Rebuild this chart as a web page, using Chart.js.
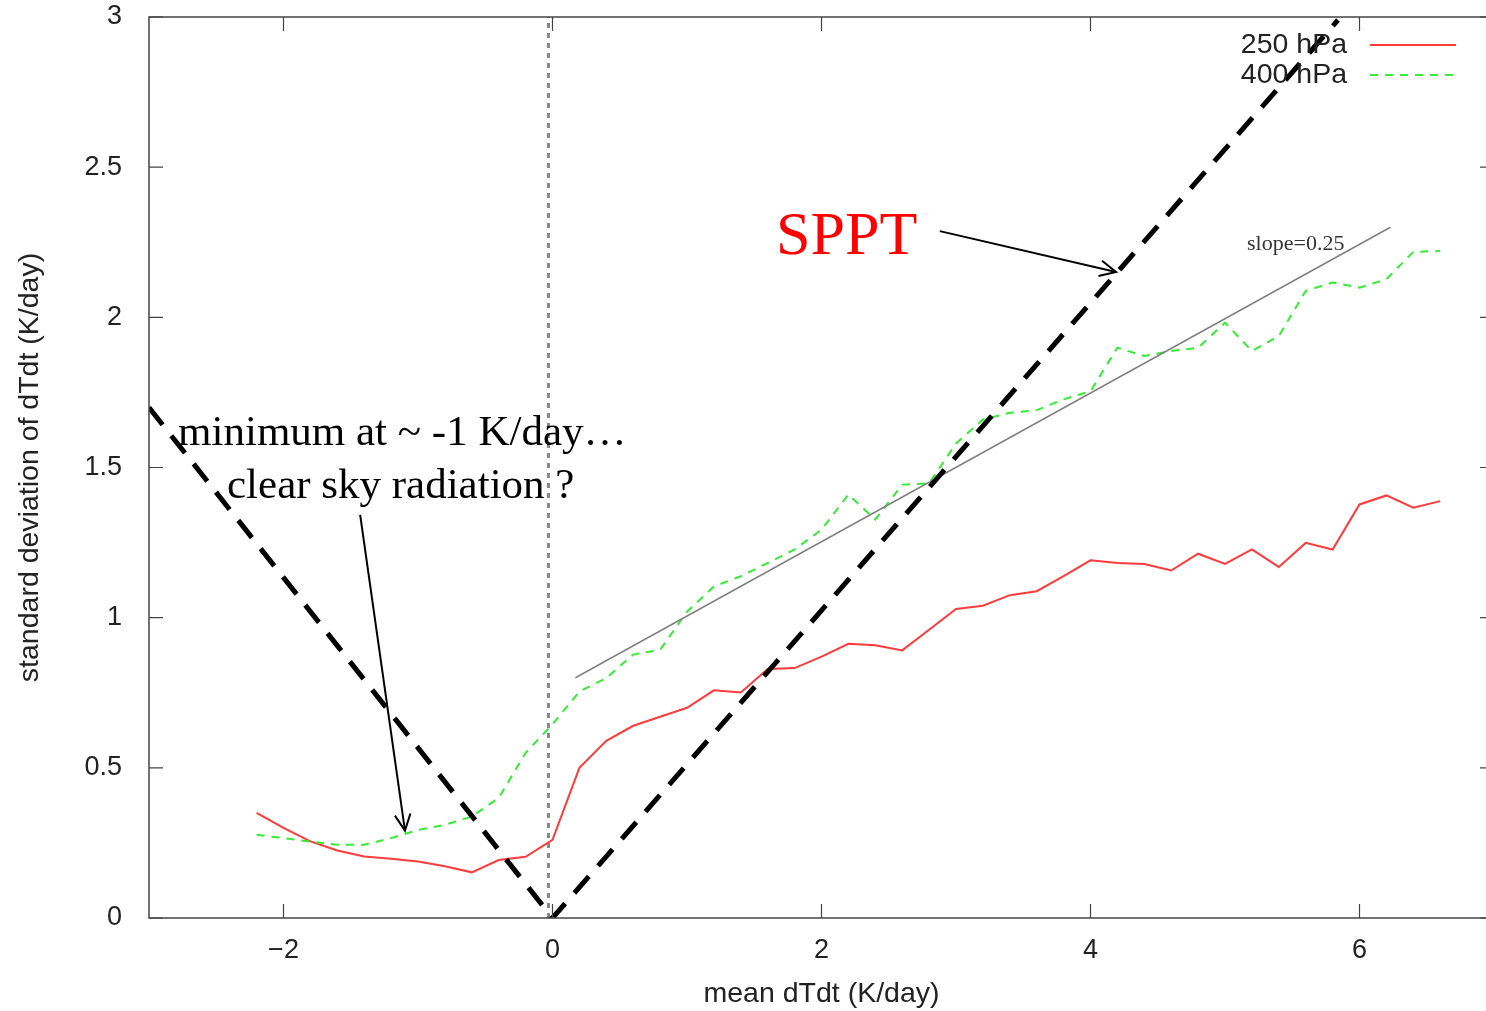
<!DOCTYPE html>
<html>
<head>
<meta charset="utf-8">
<script src="https://cdn.jsdelivr.net/npm/chart.js@4.4.1/dist/chart.umd.min.js"></script>
<style>
    body { margin: 0; background: #fff; overflow: hidden; }
    #wrap { width: 1500px; height: 1011px; position: relative; }
</style>
</head>
<body>
<div id="wrap"><canvas id="chart"></canvas></div>
<script>
// mean dTdt bins (K/day)
var meanDTdt = [-2.2, -2.0, -1.8, -1.6, -1.4, -1.2, -1.0, -0.8, -0.6, -0.4, -0.2, 0.0,
    0.2, 0.4, 0.6, 0.8, 1.0, 1.2, 1.4, 1.6, 1.8, 2.0, 2.2, 2.4, 2.6, 2.8, 3.0,
    3.2, 3.4, 3.6, 3.8, 4.0, 4.2, 4.4, 4.6, 4.8, 5.0, 5.2, 5.4, 5.6, 5.8, 6.0,
    6.2, 6.4, 6.6];

var std250 = [0.35, 0.30, 0.255, 0.225, 0.205, 0.197, 0.188, 0.172, 0.152, 0.193, 0.204, 0.26,
    0.50, 0.59, 0.64, 0.67, 0.70, 0.758, 0.751, 0.829, 0.832, 0.87, 0.913, 0.908, 0.891, 0.96, 1.029,
    1.04, 1.075, 1.088, 1.138, 1.191, 1.182, 1.179, 1.157, 1.213, 1.179, 1.227, 1.169, 1.249, 1.227, 1.377,
    1.407, 1.366, 1.388];

var std400 = [0.277, 0.266, 0.254, 0.244, 0.244, 0.266, 0.293, 0.31, 0.338, 0.40, 0.55, 0.645,
    0.754, 0.799, 0.877, 0.893, 1.02, 1.104, 1.138, 1.182, 1.227, 1.293, 1.41, 1.327, 1.443, 1.447, 1.58,
    1.66, 1.682, 1.691, 1.727, 1.754, 1.899, 1.871, 1.888, 1.899, 1.982, 1.888, 1.938, 2.088, 2.116, 2.099,
    2.127, 2.218, 2.221];

// reference line "slope=0.25"
var slopeX = [0.17, 6.23];
var slopeY = [0.80, 2.30];

// SPPT envelope (V shape)
var spptX = [-3.0, 0.0, 5.84];
var spptY = [1.70, 0.0, 2.99];

// zero line
var zeroX = [-0.03, -0.03];
var zeroY = [0, 3];

// arrows [x0, y0, x1, y1]
var arrowSppt = [2.88, 2.287, 4.19, 2.151];
var arrowMin = [-1.43, 1.342, -1.097, 0.291];

var xTicks = [-2, 0, 2, 4, 6];
var yTicks = [0, 0.5, 1, 1.5, 2, 2.5, 3];

var seriesNames = ['250 hPa', '400 hPa'];

function pts(xs, ys) {
    return xs.map((x, i) => ({ x: x, y: ys[i] }));
}

var sansFont = 'Liberation Sans, Arial, sans-serif';
var serifFont = 'Liberation Serif, Times New Roman, serif';

var redColor = '#ff3b3b';
var greenColor = '#33ee33';

// frame + inward ticks, gnuplot style
var framePlugin = {
    id: 'frame',
    afterDatasetsDraw(chart) {
        var ctx = chart.ctx;
        var a = chart.chartArea;
        var xs = chart.scales.x, ys = chart.scales.y;
        ctx.save();
        ctx.strokeStyle = '#444';
        ctx.lineWidth = 1.5;
        ctx.strokeRect(a.left, a.top, a.right - a.left, a.bottom - a.top);
        ctx.lineWidth = 1.2;
        ctx.beginPath();
        xTicks.forEach(v => {
            var p = xs.getPixelForValue(v);
            ctx.moveTo(p, a.bottom); ctx.lineTo(p, a.bottom - 14);
            ctx.moveTo(p, a.top); ctx.lineTo(p, a.top + 14);
        });
        yTicks.forEach(v => {
            var p = ys.getPixelForValue(v);
            ctx.moveTo(a.left, p); ctx.lineTo(a.left + 14, p);
            ctx.moveTo(a.right, p); ctx.lineTo(a.right - 14, p);
        });
        ctx.stroke();
        ctx.restore();
    }
};

function drawArrowHead(ctx, chart, arr) {
    var xs = chart.scales.x, ys = chart.scales.y;
    var x0 = xs.getPixelForValue(arr[0]), y0 = ys.getPixelForValue(arr[1]);
    var x1 = xs.getPixelForValue(arr[2]), y1 = ys.getPixelForValue(arr[3]);
    var ang = Math.atan2(y1 - y0, x1 - x0);
    var len = 18, spread = 0.45;
    ctx.beginPath();
    ctx.moveTo(x1 - len * Math.cos(ang - spread), y1 - len * Math.sin(ang - spread));
    ctx.lineTo(x1, y1);
    ctx.lineTo(x1 - len * Math.cos(ang + spread), y1 - len * Math.sin(ang + spread));
    ctx.stroke();
}

var notes = [
    { text: 'SPPT', x: 1.662, y: 2.211, font: '62px ' + serifFont, color: '#ff0000' },
    { text: 'minimum at ~ -1 K/day\u2026', x: -2.784, y: 1.575, font: '43px ' + serifFont, color: '#000' },
    { text: 'clear sky radiation ?', x: -2.42, y: 1.398, font: '43px ' + serifFont, color: '#000' },
    { text: 'slope=0.25', x: 5.164, y: 2.224, font: '22px ' + serifFont, color: '#333' }
];

var notesPlugin = {
    id: 'notes',
    afterDraw(chart) {
        var ctx = chart.ctx;
        var xs = chart.scales.x, ys = chart.scales.y;
        ctx.save();
        ctx.textBaseline = 'alphabetic';
        ctx.textAlign = 'left';
        notes.forEach(n => {
            ctx.font = n.font;
            ctx.fillStyle = n.color;
            ctx.fillText(n.text, xs.getPixelForValue(n.x), ys.getPixelForValue(n.y));
        });
        ctx.strokeStyle = '#000';
        ctx.lineWidth = 2;
        drawArrowHead(ctx, chart, arrowSppt);
        drawArrowHead(ctx, chart, arrowMin);

        // key, top right
        var a = chart.chartArea;
        ctx.font = '28.5px ' + sansFont;
        ctx.fillStyle = '#222';
        ctx.textAlign = 'right';
        ctx.textBaseline = 'middle';
        var keyStyles = [
            { color: redColor, dash: [] },
            { color: greenColor, dash: [8, 7] }
        ];
        seriesNames.forEach((name, i) => {
            var yy = a.top + 28 + i * 30;
            ctx.fillText(name, 1347, yy);
            ctx.strokeStyle = keyStyles[i].color;
            ctx.setLineDash(keyStyles[i].dash);
            ctx.lineWidth = 2;
            ctx.beginPath();
            ctx.moveTo(1370, yy);
            ctx.lineTo(1456, yy);
            ctx.stroke();
        });
        ctx.restore();
    }
};

var ctx = document.getElementById('chart').getContext('2d');
var chart = new Chart(ctx, {
    type: 'line',
    data: {
        datasets: [
            {
                label: 'arrow SPPT',
                data: pts([arrowSppt[0], arrowSppt[2]], [arrowSppt[1], arrowSppt[3]]),
                borderColor: '#000',
                borderWidth: 2,
                pointRadius: 0
            },
            {
                label: 'arrow minimum',
                data: pts([arrowMin[0], arrowMin[2]], [arrowMin[1], arrowMin[3]]),
                borderColor: '#000',
                borderWidth: 2,
                pointRadius: 0
            },
            {
                label: 'SPPT',
                data: pts(spptX, spptY),
                borderColor: '#000',
                borderWidth: 5,
                borderDash: [22, 14],
                pointRadius: 0
            },
            {
                label: 'slope=0.25',
                data: pts(slopeX, slopeY),
                borderColor: '#808080',
                borderWidth: 1.5,
                pointRadius: 0
            },
            {
                label: seriesNames[1],
                data: pts(meanDTdt, std400),
                borderColor: greenColor,
                borderWidth: 2,
                borderDash: [8, 7],
                pointRadius: 0
            },
            {
                label: seriesNames[0],
                data: pts(meanDTdt, std250),
                borderColor: redColor,
                borderWidth: 2,
                pointRadius: 0
            },
            {
                label: 'zero',
                data: pts(zeroX, zeroY),
                borderColor: '#888',
                borderWidth: 3,
                borderDash: [5, 5],
                pointRadius: 0
            }
        ]
    },
    options: {
        responsive: true,
        maintainAspectRatio: false,
        animation: false,
        layout: { padding: { top: 17, right: 6, left: 0, bottom: 0 } },
        scales: {
            x: {
                type: 'linear',
                min: -3,
                max: 7,
                afterBuildTicks: s => { s.ticks = xTicks.map(v => ({ value: v })); },
                afterFit: s => { s.height = 93; s.paddingTop = 0; s.paddingBottom = 0; },
                grid: { display: false },
                border: { display: false },
                ticks: {
                    padding: 8,
                    maxRotation: 0,
                    color: '#222',
                    font: { family: sansFont, size: 27 },
                    callback: v => String(v).replace('-', '\u2212')
                },
                title: {
                    display: true,
                    text: 'mean dTdt (K/day)',
                    color: '#222',
                    font: { family: sansFont, size: 28.5 },
                    padding: { top: 0, bottom: 0 }
                }
            },
            y: {
                min: 0,
                max: 3,
                afterBuildTicks: s => { s.ticks = yTicks.map(v => ({ value: v })); },
                afterFit: s => { s.width = 149; s.paddingTop = 0; s.paddingBottom = 0; },
                grid: { display: false },
                border: { display: false },
                ticks: {
                    padding: 19,
                    color: '#222',
                    font: { family: sansFont, size: 27 },
                    callback: v => String(v)
                },
                title: {
                    display: true,
                    text: 'standard deviation of dTdt (K/day)',
                    color: '#222',
                    font: { family: sansFont, size: 28.5 },
                    padding: { top: 13, bottom: 0 }
                }
            }
        },
        plugins: {
            legend: { display: false },
            tooltip: { enabled: false }
        }
    },
    plugins: [framePlugin, notesPlugin]
});
</script>
</body>
</html>
